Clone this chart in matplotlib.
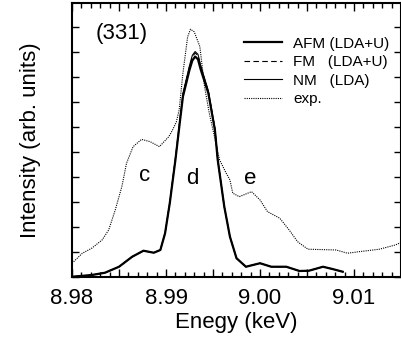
import matplotlib
matplotlib.use('Agg')
import matplotlib.pyplot as plt
from matplotlib.ticker import MultipleLocator, FuncFormatter

plt.rcParams['font.family'] = ['Liberation Sans', 'DejaVu Sans']

# experimental spectrum (dotted)
exp_e = [8.9800, 8.9811, 8.9821, 8.9832, 8.9839, 8.9846, 8.9853, 8.9858, 8.9865,
         8.9874, 8.9883, 8.9893, 8.9903, 8.9907, 8.9911, 8.9914, 8.9918, 8.9923,
         8.9926, 8.9930, 8.9936, 8.9941, 8.9946, 8.9957, 8.9964, 8.9968, 8.9971,
         8.9978, 8.9991, 9.0000, 9.0008, 9.0021, 9.0031, 9.0040, 9.0051, 9.0081,
         9.0093, 9.0105, 9.0127, 9.0144, 9.0150]
exp_i = [0.55, 0.95, 1.15, 1.48, 1.88, 2.68, 3.61, 4.55, 5.21,
         5.50, 5.41, 5.21, 5.61, 5.88, 6.20, 6.68, 8.15, 9.60,
         9.90, 9.80, 9.21, 7.61, 6.55, 4.68, 4.15, 3.88, 3.35,
         3.21, 3.41, 3.08, 2.61, 2.35, 1.88, 1.41, 1.11, 1.08,
         0.95, 1.01, 1.11, 1.28, 1.38]

# calculated spectra
calc_e = [8.9800, 8.9821, 8.9835, 8.9850, 8.9864, 8.9876, 8.9887, 8.9894, 8.9899,
          8.9904, 8.9910, 8.9915, 8.9918, 8.9925, 8.9928, 8.9931, 8.9934, 8.9937,
          8.9945, 8.9952, 8.9955, 8.9962, 8.9968, 8.9975, 8.9985, 9.0000, 9.0012,
          9.0028, 9.0042, 9.0052, 9.0067, 9.0077, 9.0088]
afm_i = [0.01, 0.08, 0.17, 0.41, 0.81, 1.05, 0.97, 1.08, 1.75,
         2.95, 4.68, 6.28, 7.21, 8.28, 8.65, 8.81, 8.70, 8.28,
         7.35, 5.88, 4.68, 2.81, 1.61, 0.75, 0.41, 0.55, 0.41,
         0.41, 0.24, 0.25, 0.41, 0.32, 0.21]
fm_i = [0.01, 0.08, 0.17, 0.41, 0.81, 1.05, 0.97, 1.08, 1.75,
        2.97, 4.72, 6.35, 7.30, 8.40, 8.80, 8.95, 8.85, 8.40,
        7.42, 5.92, 4.70, 2.81, 1.61, 0.75, 0.41, 0.55, 0.41,
        0.41, 0.24, 0.25, 0.41, 0.32, 0.21]
nm_i = [0.01, 0.08, 0.17, 0.41, 0.81, 1.05, 0.97, 1.08, 1.75,
        2.98, 4.74, 6.38, 7.34, 8.45, 8.86, 9.01, 8.90, 8.44,
        7.45, 5.94, 4.71, 2.81, 1.61, 0.75, 0.41, 0.55, 0.41,
        0.41, 0.24, 0.25, 0.41, 0.32, 0.21]

fig = plt.figure(figsize=(4.01, 3.49), dpi=100)
ax = fig.add_axes([0.1796, 0.2063, 0.8204, 0.7851])

ax.plot(calc_e, afm_i, color='black', lw=1.6, label='AFM (LDA+U)')
ax.plot(calc_e, fm_i, color='black', lw=0.8, ls=(0, (5, 3)), label='FM   (LDA+U)')
ax.plot(calc_e, nm_i, color='black', lw=0.8, label='NM   (LDA)')
ax.plot(exp_e, exp_i, color='black', lw=0.8, ls=(0, (1, 1)), label='exp.')

ax.set_xlim(8.98, 9.015)
ax.set_ylim(0, 10.95)
ax.xaxis.set_major_locator(MultipleLocator(0.005))
ax.xaxis.set_minor_locator(MultipleLocator(0.001))
ax.xaxis.set_major_formatter(FuncFormatter(
    lambda v, p: '%.2f' % v if abs(v * 100 - round(v * 100)) < 1e-6 else ''))
ax.yaxis.set_major_locator(MultipleLocator(1))
ax.set_yticklabels([])
ax.tick_params(axis='both', which='major', direction='in', top=True, right=True,
               length=6, width=1, labelsize=16, pad=8)
ax.tick_params(axis='y', which='major', length=5)
ax.tick_params(axis='x', which='minor', direction='in', top=True, length=3.5, width=1)
for s in ax.spines.values():
    s.set_linewidth(1.5)

ax.set_xlabel('Enegy (keV)', fontsize=16, labelpad=2)
ax.set_ylabel('Intensity (arb. units)', fontsize=16, labelpad=14)

ax.text(8.9853, 9.75, '(331)', fontsize=16, ha='center', va='center')
ax.text(8.9877, 4.05, 'c', fontsize=16, ha='center', va='center')
ax.text(8.9928, 3.95, 'd', fontsize=16, ha='center', va='center')
ax.text(8.9990, 3.95, 'e', fontsize=16, ha='center', va='center')

ax.legend(loc='upper left', bbox_to_anchor=(0.5, 0.905), frameon=False, fontsize=11,
          handlelength=2.5, handletextpad=0.7, labelspacing=0.3, borderpad=0)

fig.savefig('out.png', dpi=100)
